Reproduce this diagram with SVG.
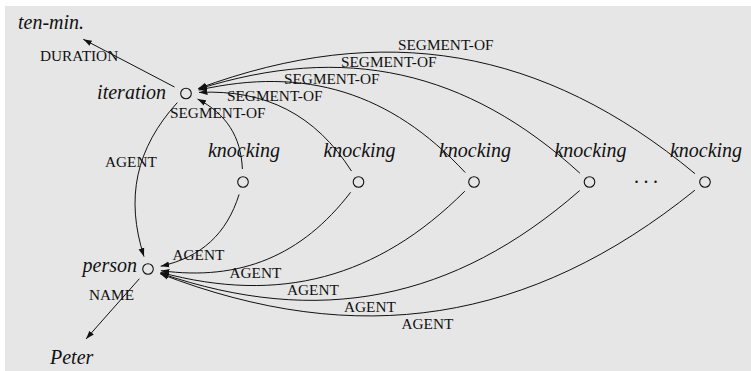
<svg xmlns="http://www.w3.org/2000/svg" width="751" height="371" viewBox="0 0 751 371">
<defs>
<style>
.nl{font-family:"Liberation Serif","Times New Roman",serif;font-style:italic;font-size:20px;fill:#111}
.el{font-family:"Liberation Serif","Times New Roman",serif;font-size:15.3px;fill:#111}
.node circle{fill:none;stroke:#111;stroke-width:1.1}
.edge{fill:none;stroke:#111;stroke-width:1;marker-end:url(#arr)}
</style>
<marker id="arr" markerUnits="userSpaceOnUse" viewBox="0 0 9 7" refX="8.5" refY="3.5" markerWidth="9" markerHeight="7" orient="auto">
<path d="M0,0.6 L8.5,3.5 L0,6.4 Z" fill="#111"/>
</marker>
</defs>
<rect x="5" y="6" width="746" height="365" fill="#e6e6e6"/>

<g id="connectors">
<path class="edge" d="M174.5,87 L83.3,39.3"/>
<path class="edge" d="M139.4,278.7 L86,339"/>
<path class="edge" d="M177.3,102.6 C135.9,148.3 125.1,197.9 144,256.6"/>
<path class="edge" d="M242.4,169 C240.9,136.4 226.4,114 197.5,99"/>
<path class="edge" d="M351.5,171.1 C315.4,114.7 265.9,89.3 199,92.4"/>
<path class="edge" d="M465.2,172.5 C390.9,92.4 305.2,65.9 198.7,90.1"/>
<path class="edge" d="M579.9,173.2 C466.9,69.9 344.3,42.9 198.4,89.1"/>
<path class="edge" d="M695,173.7 C543.3,47.6 383.3,20.2 198.2,88.5"/>
<path class="edge" d="M239.1,194.4 C226.6,234.1 201.3,257.2 160.7,266.2"/>
<path class="edge" d="M350.6,192.3 C301.8,255.9 240.4,281.2 160.9,270.7"/>
<path class="edge" d="M464.8,191.2 C377.5,278.3 279.6,304.4 160.55,272.4"/>
<path class="edge" d="M579.7,190.55 C453.5,300.8 318.9,327.4 160.3,273.2"/>
<path class="edge" d="M694.9,190.2 C530,323.2 357.8,350.1 160.1,273.7"/>
<text class="el" x="40" y="61">DURATION</text>
<text class="el" x="89" y="300">NAME</text>
<text class="el" x="105" y="166.5">AGENT</text>
<text class="el" x="170" y="118">SEGMENT-OF</text>
<text class="el" x="227" y="101">SEGMENT-OF</text>
<text class="el" x="284" y="84">SEGMENT-OF</text>
<text class="el" x="341" y="67">SEGMENT-OF</text>
<text class="el" x="398" y="50">SEGMENT-OF</text>
<text class="el" x="172.5" y="260">AGENT</text>
<text class="el" x="229.5" y="278">AGENT</text>
<text class="el" x="287" y="295">AGENT</text>
<text class="el" x="344" y="312">AGENT</text>
<text class="el" x="401.5" y="329">AGENT</text>
</g>

<g id="ten-min" class="node"><text class="nl" x="18" y="29">ten-min.</text></g>
<g id="iteration" class="node"><circle cx="186" cy="93.5" r="5.3"/><text class="nl" x="166" y="99" text-anchor="end">iteration</text></g>
<g id="person" class="node"><circle cx="148" cy="269" r="5.3"/><text class="nl" x="137" y="272" text-anchor="end">person</text></g>
<g id="peter" class="node"><text class="nl" x="50" y="363.5">Peter</text></g>
<g id="knocking1" class="node"><circle cx="243" cy="182" r="5.3"/><text class="nl" x="244" y="156.5" text-anchor="middle">knocking</text></g>
<g id="knocking2" class="node"><circle cx="358.5" cy="182" r="5.3"/><text class="nl" x="359.5" y="156.5" text-anchor="middle">knocking</text></g>
<g id="knocking3" class="node"><circle cx="474" cy="182" r="5.3"/><text class="nl" x="475" y="156.5" text-anchor="middle">knocking</text></g>
<g id="knocking4" class="node"><circle cx="589.5" cy="182" r="5.3"/><text class="nl" x="590.5" y="156.5" text-anchor="middle">knocking</text></g>
<g id="knocking5" class="node"><circle cx="705" cy="182" r="5.3"/><text class="nl" x="706" y="156.5" text-anchor="middle">knocking</text></g>
<g id="dots" class="node"><text class="nl" x="634.6" y="183" letter-spacing="4.4">...</text></g>
</svg>
